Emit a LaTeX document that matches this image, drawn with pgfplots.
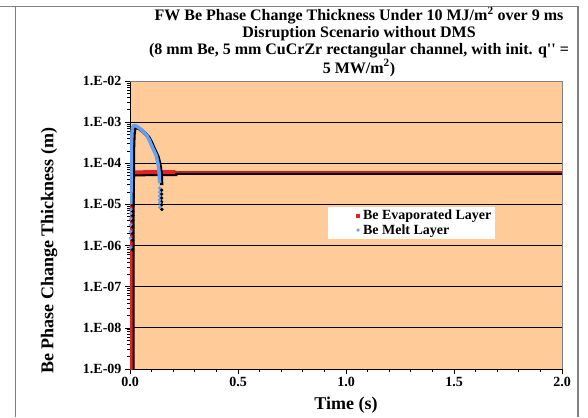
\documentclass[border=0pt]{standalone}
\usepackage{fontspec}
\setmainfont{Liberation Serif}
\usepackage{pgfplots}
\pgfplotsset{compat=1.18}
\definecolor{bgpeach}{RGB}{255,204,153}
\definecolor{evred}{RGB}{225,35,40}
\definecolor{meltblue}{RGB}{100,160,245}
\definecolor{framegray}{RGB}{128,128,128}

\pgfplotstableread{
t y
0.003 5e-10
0.003 1e-6
0.0035 2e-5
0.0045 4.5e-5
0.006 5.6e-5
0.010 6.0e-5
0.050 6.05e-5
0.100 6.08e-5
0.210 6.1e-5
}\evapA
\pgfplotstableread{
t y
0.210 6.1e-5
0.500 6.1e-5
1.000 6.1e-5
1.500 6.1e-5
2.000 6.1e-5
}\evapB
\pgfplotstableread{
t y
0.0040 1.0e-5
0.0050 3.0e-5
0.0060 1.0e-4
0.0070 3.0e-4
0.0090 5.5e-4
0.0120 7.5e-4
0.0180 8.2e-4
0.0250 8.2e-4
0.0350 7.7e-4
0.0460 7.0e-4
0.0600 6.0e-4
0.0770 4.8e-4
0.0900 3.6e-4
0.1000 2.7e-4
0.1100 2.1e-4
0.1200 1.6e-4
0.1270 1.15e-4
0.1310 8.9e-5
0.1340 6.5e-5
0.1360 4.7e-5
0.1370 3.3e-5
}\meltA
\pgfplotstableread{
t y
0.0020 9.0e-7
0.0022 1.5e-6
0.0025 2.2e-6
0.0028 3.2e-6
0.0030 4.5e-6
0.0033 6.0e-6
0.0036 7.5e-6
0.1370 2.5e-5
0.1370 2.0e-5
0.1370 1.6e-5
0.1370 1.3e-5
0.1375 1.1e-5
0.1380 8.5e-6
}\meltB

\begin{document}
\begin{tikzpicture}[x=1pt,y=1pt]
\begin{axis}[
  at={(130pt,48pt)}, anchor=south west,
  scale only axis, width=432pt, height=288pt,
  xmin=0, xmax=2, ymode=log, ymin=1e-9, ymax=1e-2,
  axis background/.style={fill=bgpeach},
  axis lines*=left,
  axis line style={black, line width=1pt},
  xtick={0,0.5,1,1.5,2}, xticklabels={0.0,0.5,1.0,1.5,2.0},
  minor x tick num=4,
  ytick={1e-9,1e-8,1e-7,1e-6,1e-5,1e-4,1e-3,1e-2},
  yticklabels={1.E-09,1.E-08,1.E-07,1.E-06,1.E-05,1.E-04,1.E-03,1.E-02},
  minor ytick={2e-9,3e-9,4e-9,5e-9,6e-9,7e-9,8e-9,9e-9,
               2e-8,3e-8,4e-8,5e-8,6e-8,7e-8,8e-8,9e-8,
               2e-7,3e-7,4e-7,5e-7,6e-7,7e-7,8e-7,9e-7,
               2e-6,3e-6,4e-6,5e-6,6e-6,7e-6,8e-6,9e-6,
               2e-5,3e-5,4e-5,5e-5,6e-5,7e-5,8e-5,9e-5,
               2e-4,3e-4,4e-4,5e-4,6e-4,7e-4,8e-4,9e-4,
               2e-3,3e-3,4e-3,5e-3,6e-3,7e-3,8e-3,9e-3},
  tick align=outside,
  major tick length=5pt, minor tick length=3pt,
  tick style={black, line width=0.7pt},
  ymajorgrids, major grid style={black, line width=0.8pt},
  /pgf/number format/assume math mode=true,
  ticklabel style={font=\fontsize{14}{14}\selectfont\bfseries},
  xlabel={Time (s)}, ylabel={Be Phase Change Thickness (m)},
  every axis x label/.style={at={(axis description cs:0.5,0)}, anchor=center, yshift=-36pt,
    font=\fontsize{18}{18}\selectfont\bfseries},
  every axis y label/.style={at={(axis description cs:-0.187,0.41)}, anchor=center, rotate=90,
    font=\fontsize{18}{18}\selectfont\bfseries},
  legend style={draw=none, fill=white, at={(0.458,0.5625)}, anchor=north west,
    font=\fontsize{14}{14}\selectfont\bfseries, inner xsep=2pt, inner ysep=1pt, row sep=-1pt},
  legend cell align=left,
  after end axis/.code={
    \draw[framegray, line width=1pt] (rel axis cs:0,1) -- (rel axis cs:1,1) -- (rel axis cs:1,0);
  },
]
% evaporated layer (with shadow)
\addplot[black, line width=4pt, xshift=2pt, yshift=-2pt, forget plot] table {\evapA};
\addplot[black, line width=2pt, xshift=1.5pt, yshift=-1.5pt, forget plot] table {\evapB};
\addplot[evred, line width=4pt, forget plot] table {\evapA};
\addplot[evred!85!black, line width=2pt, forget plot] table {\evapB};
% melt layer (with shadow)
\addplot[black, line width=3.5pt, xshift=2pt, yshift=-2pt, forget plot] table {\meltA};
\addplot[black, only marks, mark=*, mark size=1.6pt, xshift=2pt, yshift=-2pt, forget plot] table {\meltB};
\addplot[meltblue, line width=3.5pt, forget plot] table {\meltA};
\addplot[meltblue, only marks, mark=*, mark size=1.6pt, forget plot] table {\meltB};
% legend
\addlegendimage{legend image code/.code={\path[draw=none,fill=none] (-28pt,0pt) -- (3pt,0pt); \fill[evred, draw=none] (-1.8pt,-1.8pt) rectangle (1.8pt,1.8pt);}}
\addlegendentry{Be Evaporated Layer}
\addlegendimage{legend image code/.code={\path[draw=none,fill=none] (-28pt,0pt) -- (3pt,0pt); \fill[meltblue, draw=none] (0pt,0pt) circle (1.8pt);}}
\addlegendentry{Be Melt Layer}
\end{axis}
\node[anchor=north, align=center, inner sep=0pt, font=\fontsize{16}{17}\selectfont\bfseries] at (359,410)
  {FW Be Phase Change Thickness Under 10 MJ/m\textsuperscript{2} over 9 ms\\
   Disruption Scenario without DMS\\
   (8 mm Be, 5 mm CuCrZr rectangular channel, with init. q\textquotesingle\textquotesingle\ =\\
   5 MW/m\textsuperscript{2})};
\draw[framegray, line width=1.3pt] (0,410.5) -- (578,410.5);
\draw[framegray, line width=1.3pt] (15.5,0) -- (15.5,410.5);
\draw[framegray, line width=1.3pt] (578,0) -- (578,410.5);
\pgfresetboundingbox
\useasboundingbox (0,0) rectangle (588,417);
\end{tikzpicture}
\end{document}
